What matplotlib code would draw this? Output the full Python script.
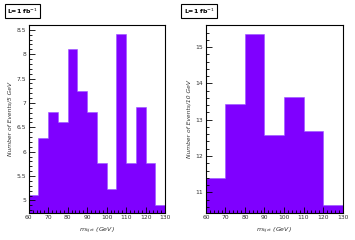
import numpy as np
import matplotlib
matplotlib.use("Agg")
import matplotlib.pyplot as plt
from matplotlib.ticker import MultipleLocator

# left panel: 5 GeV bins
edges_5 = list(range(60, 131, 5))
counts_5 = [5.11, 6.29, 6.82, 6.61, 8.10, 7.24, 6.82, 5.76, 5.23, 8.41, 5.76, 6.92, 5.76, 4.90]

# right panel: 10 GeV bins
edges_10 = list(range(60, 131, 10))
counts_10 = [11.40, 13.42, 15.35, 12.59, 13.63, 12.68, 10.65]

lumi_label = "L=1 fb$^{-1}$"
xlabel = "$m_{bjet}$ (GeV)"
ylabels = ["Number of Events/5 GeV", "Number of Events/10 GeV"]

fill = "#7f00ff"

fig = plt.figure(figsize=(3.55, 2.4), dpi=100)
ax1 = fig.add_axes([0.081, 0.114, 0.384, 0.782])
ax2 = fig.add_axes([0.580, 0.114, 0.385, 0.782])


def style(ax, ylim, ymaj, ymin, ylab):
    ax.set_xlim(60, 130)
    ax.set_ylim(*ylim)
    ax.xaxis.set_major_locator(MultipleLocator(10))
    ax.xaxis.set_minor_locator(MultipleLocator(2))
    ax.yaxis.set_major_locator(MultipleLocator(ymaj))
    ax.yaxis.set_minor_locator(MultipleLocator(ymin))
    ax.tick_params(which="both", direction="in", top=False, right=False,
                   labelsize=4.3, width=0.6, pad=2, labelcolor="#333333")
    ax.tick_params(which="major", length=4)
    ax.tick_params(which="minor", length=2)
    for s in ax.spines.values():
        s.set_linewidth(0.8)
    ax.set_xlabel(xlabel, fontsize=4.5, style="italic", labelpad=4, color="#333333")
    ax.set_ylabel(ylab, fontsize=4.3, style="italic", labelpad=2.5, color="#333333")


ax1.stairs(counts_5, edges_5, fill=True, baseline=0, color=fill, edgecolor="#9a55ff", lw=0.4)
style(ax1, (4.75, 8.6), 0.5, 0.1, ylabels[0])
ax1.yaxis.set_major_formatter(plt.FuncFormatter(lambda v, p: f"{v:g}"))

ax2.stairs(counts_10, edges_10, fill=True, baseline=0, color=fill, edgecolor="#9a55ff", lw=0.4)
style(ax2, (10.44, 15.61), 1, 0.2, ylabels[1])

for x in (0.016, 0.513):
    fig.text(x + 0.004, 0.953, lumi_label, fontsize=4.5, fontweight="bold",
             ha="left", va="center",
             bbox=dict(boxstyle="square,pad=0.35", fc="white", ec="black", lw=0.8))

fig.savefig("out.png", dpi=100)
